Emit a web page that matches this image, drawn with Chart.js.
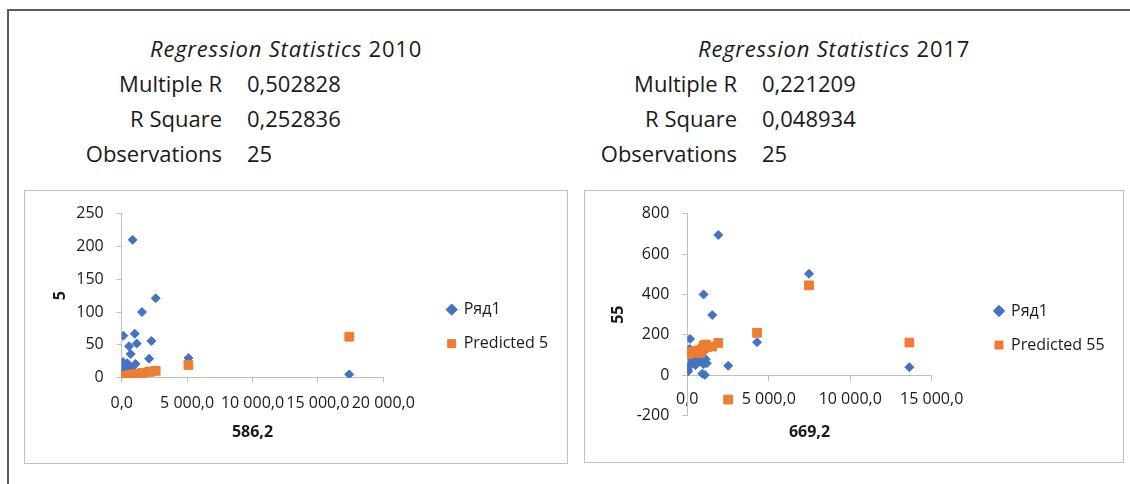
<!DOCTYPE html>
<html>
<head>
<meta charset="utf-8">
<script src="https://cdn.jsdelivr.net/npm/chart.js@4.4.1/dist/chart.umd.min.js"></script>
<style>
	body { margin: 0; width: 1130px; height: 484px; background: #fff; position: relative; overflow: hidden; font-family: "Open Sans", sans-serif; color: #1a1a1a; }
	.frame { position: absolute; left: 7px; top: 9px; width: 1130px; height: 480px; border-top: 2px solid #5a5a5a; border-left: 2px solid #5a5a5a; }
	.t { position: absolute; font-size: 22px; line-height: 35px; white-space: nowrap; }
	.t.head { letter-spacing: 0.8px; }
	.box { position: absolute; border: 1px solid #c0c0c0; background: #fff; }
	.box canvas { display: block; }
</style>
</head>
<body>
<div class="frame"></div>

<div class="t head" style="left:150px;top:31px"><i>Regression Statistics</i> 2010</div>
<div class="t" style="right:908px;top:66px">Multiple R</div>
<div class="t" style="left:247px;top:66px">0,502828</div>
<div class="t" style="right:908px;top:101px">R Square</div>
<div class="t" style="left:247px;top:101px">0,252836</div>
<div class="t" style="right:908px;top:136px">Observations</div>
<div class="t" style="left:247px;top:136px">25</div>

<div class="t head" style="left:698px;top:31px"><i>Regression Statistics</i> 2017</div>
<div class="t" style="right:393px;top:66px">Multiple R</div>
<div class="t" style="left:762px;top:66px">0,221209</div>
<div class="t" style="right:393px;top:101px">R Square</div>
<div class="t" style="left:762px;top:101px">0,048934</div>
<div class="t" style="right:393px;top:136px">Observations</div>
<div class="t" style="left:762px;top:136px">25</div>

<div class="box" style="left:24px;top:190px;width:542px;height:272px"><canvas id="c2010" width="542" height="272"></canvas></div>
<div class="box" style="left:584px;top:190px;width:538px;height:271px"><canvas id="c2017" width="538" height="271"></canvas></div>

<script>
// 2010 : x = 586,2 ; y = 5
const x2010 = [0, 20, 50, 100, 120, 150, 200, 300, 400, 420, 560, 600, 690, 800, 840, 1000, 1050, 1150, 1500, 1550, 2100, 2270, 2600, 5100, 17400];
const y2010 = [12, 18, 5, 24, 64, 3, 8, 10, 15, 22, 48, 18, 36, 12, 210, 67, 21, 52, 1, 100, 29, 56, 121, 30, 5];
const pred2010 = [1.5, 1.6, 1.7, 1.9, 1.9, 2.0, 2.2, 2.6, 2.9, 3.0, 3.5, 3.6, 3.9, 4.3, 4.4, 5.0, 5.2, 5.5, 6.8, 6.9, 8.9, 9.5, 10.6, 19.4, 62.4];
const xTicks2010 = ["0,0", "5 000,0", "10 000,0", "15 000,0", "20 000,0"];
const yTicks2010 = ["0", "50", "100", "150", "200", "250"];

// 2017 : x = 669,2 ; y = 55
const x2017 = [30, 50, 100, 150, 170, 250, 300, 400, 500, 600, 700, 800, 900, 920, 1000, 1000, 1080, 1130, 1200, 1530, 1900, 2510, 4280, 7470, 13630];
const y2017 = [30, 20, 45, 130, 180, 60, 75, 90, 50, 100, 65, 110, 95, 8, 400, 55, 2, 80, 60, 298, 694, 47, 164, 502, 40];
const pred2017 = [105, 106, 108, 110, 110, 112, 114, 116, 118, 120, 123, 110, 128, 130, 145, 132, 150, 152, 140, 142, 160, -120, 210, 445, 162];
const xTicks2017 = ["0,0", "5 000,0", "10 000,0", "15 000,0"];
const yTicks2017 = ["-200", "0", "200", "400", "600", "800"];

Chart.defaults.font.family = "'Open Sans', sans-serif";
Chart.defaults.color = "#1a1a1a";

const measure = document.createElement("canvas").getContext("2d");
measure.font = "16px 'Open Sans'";

const axisGrey = "#bfbfbf";

function scatterChart(canvasId, xs, ys, preds, predLabel, xTicks, yTicks, xRange, yRange, titles, lay) {
	const canvas = document.getElementById(canvasId);
	const legendWidth = 44 + measure.measureText(predLabel).width;
	new Chart(canvas, {
		type: "scatter",
		data: {
			datasets: [
				{
					label: "Ряд1",
					data: xs.map((x, i) => ({ x: x, y: ys[i] })),
					pointStyle: "rectRot",
					pointRadius: 4.5,
					backgroundColor: "#4472c4",
					borderColor: "#4472c4",
					borderWidth: 1,
					order: 1,
				},
				{
					label: predLabel,
					data: xs.map((x, i) => ({ x: x, y: preds[i] })),
					pointStyle: "rect",
					pointRadius: 6.2,
					backgroundColor: "#ed7d31",
					borderColor: "#ed7d31",
					borderWidth: 1,
					order: 0,
				},
			],
		},
		options: {
			responsive: false,
			animation: false,
			devicePixelRatio: 1,
			layout: {
				padding: { left: 0, top: lay.top, right: canvas.width - lay.legendLeft - legendWidth, bottom: lay.bottom },
			},
			plugins: {
				tooltip: { enabled: false },
				legend: {
					position: "right",
					maxWidth: 300,
					title: { display: lay.legendShift > 0, text: "", font: { size: 10 }, padding: { top: lay.legendShift, bottom: 0 } },
					labels: {
						usePointStyle: true,
						boxWidth: 8,
						boxHeight: 8,
						padding: 18,
						color: "#1a1a1a",
						font: { size: 16 },
						sort: (a, b) => a.datasetIndex - b.datasetIndex,
					},
				},
			},
			scales: {
				x: {
					type: "linear",
					min: xRange[0],
					max: xRange[1],
					position: lay.xPos,
					grid: { display: true, drawOnChartArea: false, drawTicks: true, tickLength: 5, color: axisGrey },
					border: { display: true, color: axisGrey },
					ticks: {
						stepSize: xRange[2],
						autoSkip: false,
						maxRotation: 0,
						minRotation: 0,
						padding: lay.xPad,
						font: { size: 16 },
						callback: (v, i) => xTicks[i],
					},
					title: { display: true, text: titles[0], font: { size: 16, weight: "bold" }, padding: lay.xTitlePad },
				},
				y: {
					type: "linear",
					min: yRange[0],
					max: yRange[1],
					position: "left",
					grid: { display: true, drawOnChartArea: false, drawTicks: true, tickLength: 5, color: axisGrey },
					border: { display: true, color: axisGrey },
					ticks: { stepSize: yRange[2], padding: 13, font: { size: 16 }, callback: (v, i) => yTicks[i] },
					title: { display: true, text: titles[1], font: { size: 16, weight: "bold" }, padding: { top: lay.yTitlePad, bottom: 0 } },
					afterFit: (s) => { s.width = lay.left; },
				},
				pad: {
					axis: "y",
					type: "linear",
					position: "right",
					display: true,
					grid: { display: false },
					border: { display: false },
					ticks: { display: false },
					afterFit: (s) => { s.width = lay.legendLeft - lay.right; },
				},
			},
		},
	});
}

scatterChart("c2010", x2010, y2010, pred2010, "Predicted 5", xTicks2010, yTicks2010,
	[0, 20000, 5000], [0, 250, 50], ["586,2", "5"],
	{ top: 19.7, bottom: 20.5, left: 96.7, right: 358.3, legendLeft: 404.7, legendShift: 0,
		xPos: "bottom", xPad: 10.7, xTitlePad: { top: 0, bottom: 0 }, yTitlePad: 25.4 });

scatterChart("c2017", x2017, y2017, pred2017, "Predicted 55", xTicks2017, yTicks2017,
	[0, 15000, 5000], [-200, 800, 200], ["669,2", "55"],
	{ top: 20, bottom: 46.3, left: 102.3, right: 346.7, legendLeft: 392, legendShift: 17.3,
		xPos: { y: 0 }, xPad: 9.4, xTitlePad: { top: 4.1, bottom: 0 }, yTitlePad: 23.4 });
</script>
</body>
</html>
